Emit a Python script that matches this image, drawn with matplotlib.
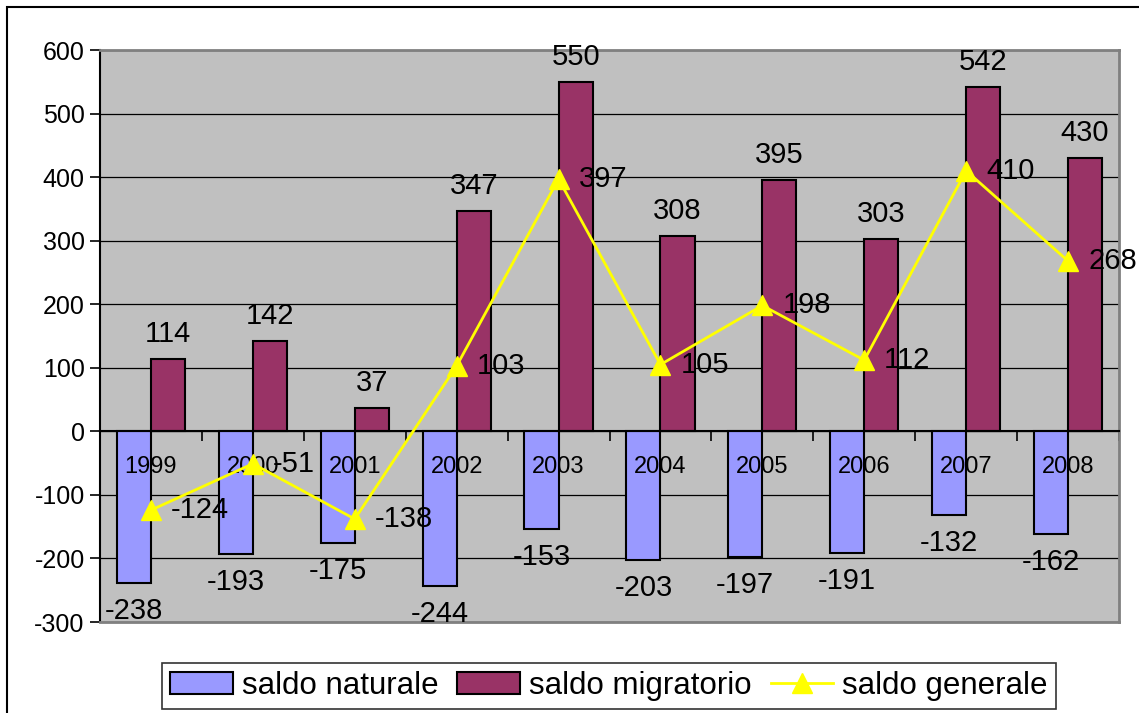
import matplotlib as mpl
mpl.use('Agg')
import matplotlib.pyplot as plt
from matplotlib.patches import Rectangle
import numpy as np

years = ['1999', '2000', '2001', '2002', '2003', '2004', '2005', '2006', '2007', '2008']
saldo_naturale = [-238, -193, -175, -244, -153, -203, -197, -191, -132, -162]
saldo_migratorio = [114, 142, 37, 347, 550, 308, 395, 303, 542, 430]
saldo_generale = [-124, -51, -138, 103, 397, 105, 198, 112, 410, 268]

plt.rcParams['font.family'] = ['Liberation Sans', 'DejaVu Sans']
plt.rcParams['axes.unicode_minus'] = False

fig = plt.figure(figsize=(11.39, 7.13), dpi=100)
ax = fig.add_axes([100 / 1139, 1 - 622 / 713, 1019 / 1139, 572 / 713])
ax.set_facecolor('#C0C0C0')

x = np.arange(len(years))
w = 0.335
b1 = ax.bar(x - w / 2, saldo_naturale, w, color='#9999FF', edgecolor='black',
            linewidth=1.5, label='saldo naturale', zorder=3)
b2 = ax.bar(x + w / 2, saldo_migratorio, w, color='#993366', edgecolor='black',
            linewidth=1.5, label='saldo migratorio', zorder=3)
ln, = ax.plot(x, saldo_generale, color='#FFFF00', linewidth=2, marker='^',
              markersize=14, label='saldo generale', zorder=5)

ax.set_xlim(-0.5, 9.5)
ax.set_ylim(-300, 600)
ax.set_yticks(range(-300, 601, 100))
ax.yaxis.grid(True, color='black', linewidth=0.9)
ax.set_axisbelow(True)
ax.tick_params(axis='y', labelsize=18, length=7, width=1.2, pad=4, direction='out')

# x axis sits at zero, tick marks between categories
ax.spines['bottom'].set_position(('data', 0))
ax.spines['bottom'].set_color('black')
ax.spines['bottom'].set_linewidth(1.5)
ax.spines['bottom'].set_zorder(4)
ax.set_xticks(np.arange(-0.5, 10, 1))
ax.set_xticklabels([])
ax.tick_params(axis='x', length=7, width=1.2, direction='out')
ax.spines['left'].set_color('black')
ax.spines['left'].set_linewidth(1.5)
for s in ['top', 'right']:
    ax.spines[s].set_color('#808080')
    ax.spines[s].set_linewidth(2)
ax.axhline(-300, color='#808080', linewidth=2, clip_on=False, zorder=4)

for i, yr in enumerate(years):
    ax.annotate(yr, (x[i], 0), xytext=(0, -36), textcoords='offset pixels',
                ha='center', va='center', fontsize=17, zorder=4)
for i, v in enumerate(saldo_naturale):
    ax.annotate(str(v), (x[i] - w / 2, v), xytext=(0, -14), textcoords='offset pixels',
                ha='center', va='top', fontsize=21, zorder=6, annotation_clip=False)
for i, v in enumerate(saldo_migratorio):
    ax.annotate(str(v), (x[i] + w / 2, v), xytext=(0, 11), textcoords='offset pixels',
                ha='center', va='bottom', fontsize=21, zorder=6, annotation_clip=False)
for i, v in enumerate(saldo_generale):
    ax.annotate(str(v), (x[i], v), xytext=(20, 0), textcoords='offset pixels',
                ha='left', va='center', fontsize=21, zorder=6, annotation_clip=False)

leg = fig.legend(handles=[b1, b2, ln], loc='center', bbox_to_anchor=(609 / 1139, 1 - 686 / 713),
                 ncol=3, fontsize=22.5, frameon=True, fancybox=False, edgecolor='black',
                 handlelength=2.0, handletextpad=0.3, columnspacing=0.6, borderpad=0.25,
                 borderaxespad=0)
leg.get_frame().set_linewidth(1.2)

fig.patches.append(Rectangle((7 / 1139, -0.05), 1.2, 1 - 7 / 713 + 0.05,
                             transform=fig.transFigure, fill=False,
                             edgecolor='black', linewidth=1.5))

fig.savefig('out.png', dpi=100)
